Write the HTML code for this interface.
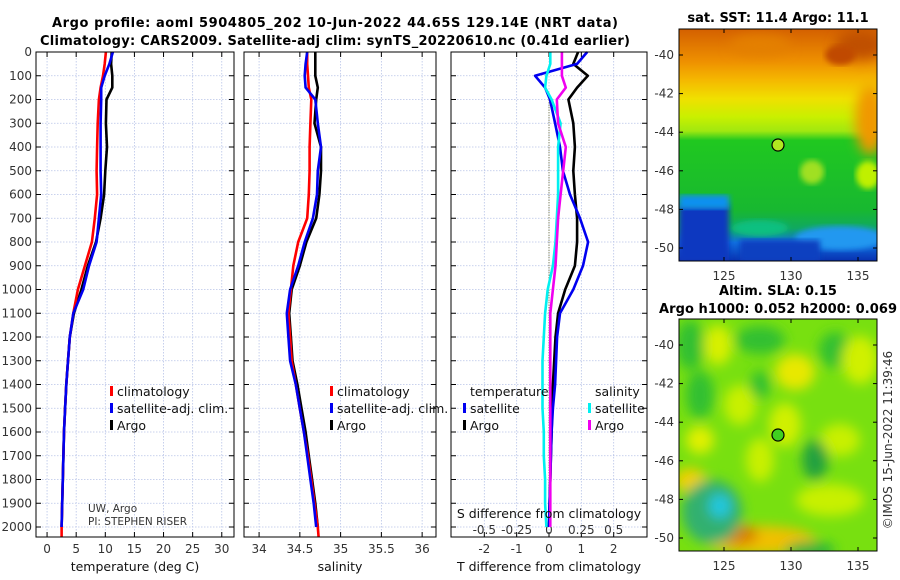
<!DOCTYPE html>
<html><head><meta charset="utf-8"><style>
html,body{margin:0;padding:0;background:#fff;}
svg{display:block;font-family:"DejaVu Sans","Liberation Sans",sans-serif;}
.tk{font-size:12px;fill:#333;}
.tt{font-size:13px;font-weight:bold;fill:#000;}
.lg{font-size:12.5px;fill:#111;}
</style></head><body>
<svg id="fig" width="900" height="580" viewBox="0 0 900 580" xmlns="http://www.w3.org/2000/svg">
<defs>
<filter id="blur6" x="-50%" y="-50%" width="200%" height="200%"><feGaussianBlur stdDeviation="6"/></filter>
<filter id="blur3"><feGaussianBlur stdDeviation="3"/></filter>
<clipPath id="cm1"><rect x="679" y="29" width="198" height="232"/></clipPath>
<clipPath id="cm2"><rect x="679" y="319" width="198" height="232"/></clipPath>
<linearGradient id="sstg" x1="0" y1="0" x2="0" y2="1">
<stop offset="0" stop-color="#d46000"/><stop offset="0.14" stop-color="#ee9000"/>
<stop offset="0.22" stop-color="#f5b800"/><stop offset="0.3" stop-color="#f0e000"/>
<stop offset="0.38" stop-color="#c8f000"/><stop offset="0.44" stop-color="#a0e810"/>
<stop offset="0.48" stop-color="#20c820"/><stop offset="0.78" stop-color="#18b830"/>
<stop offset="0.86" stop-color="#10a860"/><stop offset="0.92" stop-color="#1070e0"/>
<stop offset="1" stop-color="#0830b0"/></linearGradient>
</defs>
<g id="titles">
<text class="tt" x="335" y="27" text-anchor="middle" textLength="566">Argo profile: aoml 5904805_202 10-Jun-2022 44.65S 129.14E (NRT data)</text>
<text class="tt" x="335" y="45" text-anchor="middle" textLength="590">Climatology: CARS2009. Satellite-adj clim: synTS_20220610.nc (0.41d earlier)</text>
</g>
<g id="panels"></g>

<g>
<text class="tt" x="778" y="22" text-anchor="middle">sat. SST: 11.4 Argo: 11.1</text>
<g clip-path="url(#cm1)">
<rect x="679" y="29" width="198" height="232" fill="url(#sstg)"/>
<ellipse cx="860" cy="45" rx="25" ry="15" fill="#c05000" filter="url(#blur6)"/>
<ellipse cx="840" cy="55" rx="15" ry="10" fill="#c04800" filter="url(#blur3)"/>
<ellipse cx="760" cy="45" rx="30" ry="10" fill="#e48000" filter="url(#blur6)"/>
<ellipse cx="870" cy="120" rx="15" ry="35" fill="#f09800" filter="url(#blur6)"/>
<ellipse cx="812" cy="172" rx="12" ry="12" fill="#a0e020" filter="url(#blur3)"/>
<ellipse cx="868" cy="175" rx="12" ry="14" fill="#c0f000" filter="url(#blur3)"/>
<rect x="679" y="205" width="50" height="56" fill="#0838c0" filter="url(#blur3)"/>
<rect x="679" y="195" width="50" height="14" fill="#1090f0" filter="url(#blur3)"/>
<ellipse cx="840" cy="238" rx="45" ry="12" fill="#2098f0" filter="url(#blur3)"/>
<rect x="740" y="240" width="80" height="22" fill="#0840c0" filter="url(#blur3)"/>
<ellipse cx="760" cy="228" rx="28" ry="8" fill="#10c080" filter="url(#blur3)"/>
</g>
<rect x="679" y="29" width="198" height="232" fill="none" stroke="#000" stroke-width="1"/>
<circle cx="778" cy="145" r="6" fill="#b0e820" stroke="#000" stroke-width="1.2"/>
<g id="m1ticks"></g>
</g>

<g>
<text class="tt" x="778" y="295" text-anchor="middle">Altim. SLA: 0.15</text>
<text class="tt" x="778" y="313" text-anchor="middle" textLength="238">Argo h1000: 0.052 h2000: 0.069</text>
<g clip-path="url(#cm2)">
<rect x="679" y="319" width="198" height="232" fill="#78e010"/>
<g filter="url(#blur6)">
<ellipse cx="690" cy="345" rx="14" ry="25" fill="#30c030"/>
<ellipse cx="760" cy="340" rx="25" ry="14" fill="#30c030"/>
<ellipse cx="835" cy="350" rx="16" ry="18" fill="#30c030"/>
<ellipse cx="718" cy="345" rx="14" ry="20" fill="#d8f000"/>
<ellipse cx="795" cy="372" rx="20" ry="18" fill="#e8e800"/>
<ellipse cx="860" cy="360" rx="18" ry="24" fill="#d0f000"/>
<ellipse cx="740" cy="405" rx="16" ry="20" fill="#c8f000"/>
<ellipse cx="785" cy="425" rx="16" ry="22" fill="#d0f000"/>
<ellipse cx="840" cy="440" rx="20" ry="16" fill="#c8f000"/>
<ellipse cx="700" cy="440" rx="14" ry="14" fill="#e0f000"/>
<ellipse cx="690" cy="480" rx="16" ry="12" fill="#f0d000"/>
<ellipse cx="760" cy="460" rx="14" ry="22" fill="#c8f000"/>
<ellipse cx="830" cy="500" rx="34" ry="16" fill="#c8f000"/>
<ellipse cx="760" cy="540" rx="55" ry="14" fill="#f0c000"/>
<ellipse cx="738" cy="535" rx="20" ry="10" fill="#d88000"/>
<ellipse cx="712" cy="512" rx="30" ry="32" fill="#30b070"/>
<ellipse cx="720" cy="506" rx="11" ry="12" fill="#20c8e0"/>
<ellipse cx="815" cy="460" rx="13" ry="20" fill="#20a040"/>
<ellipse cx="810" cy="550" rx="25" ry="8" fill="#20b040"/>
<ellipse cx="700" cy="395" rx="14" ry="24" fill="#30c030"/>
<ellipse cx="760" cy="385" rx="10" ry="14" fill="#30c030"/>
</g>
</g>
<rect x="679" y="319" width="198" height="232" fill="none" stroke="#000" stroke-width="1"/>
<circle cx="778" cy="435" r="6" fill="#40d020" stroke="#000" stroke-width="1.2"/>
<g id="m2ticks"></g>
<text class="tk" transform="translate(892,440) rotate(-90)" text-anchor="middle">©IMOS 15-Jun-2022 11:39:46</text>
</g>
</svg>
<script>
const depths = [0,50,100,150,200,300,400,500,600,700,800,900,1000,1100,1200,1300,1400,1500,1600,1700,1800,1900,2000];
const tempClim = [10.1,9.9,9.6,9.2,8.9,8.7,8.6,8.5,8.6,8.2,7.7,6.5,5.3,4.5,3.9,3.6,3.3,3.1,2.9,2.8,2.7,2.6,2.5];
const tempSat  = [11.3,10.7,9.9,9.3,9.3,9.2,9.2,9.2,9.3,8.9,8.5,7.2,6.2,4.5,3.9,3.6,3.3,3.1,2.9,2.8,2.7,2.6,2.5];
const tempArgo = [11.1,11.0,11.2,11.2,10.2,10.1,10.3,10.0,9.8,9.2,8.4,7.0,5.9,4.6,3.9,3.6,3.3,3.1,2.9,2.8,2.7,2.6,2.5];
const salClim  = [34.59,34.59,34.6,34.61,34.64,34.63,34.62,34.62,34.61,34.59,34.48,34.42,34.39,34.36,34.38,34.40,34.45,34.50,34.55,34.60,34.64,34.68,34.72];
const salSat   = [34.59,34.57,34.56,34.57,34.69,34.72,34.76,34.72,34.71,34.66,34.56,34.48,34.38,34.34,34.36,34.38,34.45,34.50,34.55,34.59,34.63,34.67,34.70];
const salArgo  = [34.69,34.69,34.69,34.72,34.70,34.68,34.76,34.76,34.74,34.70,34.58,34.50,34.40,34.37,34.39,34.41,34.47,34.52,34.57,34.61,34.65,34.69,34.72];
const dTsat  = [1.18,0.87,-0.43,-0.12,0.03,0.19,0.34,0.43,0.65,0.96,1.21,1.05,0.75,0.34,0.25,0.22,0.19,0.12,0.08,0.06,0.04,0.02,0.0];
const dTargo = [0.9,0.75,1.2,0.87,0.6,0.75,0.8,0.75,0.8,0.87,0.87,0.8,0.5,0.28,0.2,0.16,0.12,0.1,0.08,0.06,0.04,0.02,0.0];
const dSsat  = [0.01,0.01,-0.02,-0.03,0.02,0.09,0.07,0.07,0.07,0.06,0.05,0.03,-0.01,-0.03,-0.04,-0.05,-0.05,-0.05,-0.04,-0.04,-0.03,-0.03,-0.02];
const dSargo = [0.1,0.1,0.1,0.13,0.06,0.07,0.13,0.11,0.09,0.07,0.06,0.05,0.03,0.01,0.01,0.01,0.01,0.01,0.01,0.01,0.01,0.01,0.01];
const depthTicks = [0,100,200,300,400,500,600,700,800,900,1000,1100,1200,1300,1400,1500,1600,1700,1800,1900,2000];
const tempTicks = [0,5,10,15,20,25,30];
const salTicks = [34,34.5,35,35.5,36];
const salTickLabels = ["34","34.5","35","35.5","36"];
const dTTicks = [-2,-1,0,1,2];
const dSTicks = [-0.5,-0.25,0,0.25,0.5];
const dSTickLabels = ["-0.5","-0.25","0","0.25","0.5"];
const latTicks = [-40,-42,-44,-46,-48,-50];
const lonTicks = [125,130,135];

const TOP=52, BOT=537;
const yD = d => TOP + d*0.2375;
const panels = [
 {x0:36,x1:234,lo:-1.9,hi:32.1},
 {x0:244,x1:436,lo:33.815,hi:36.17},
 {x0:451,x1:647,lo:-3.03,hi:3.03}
];
const xS = (p,v) => p.x0 + (v-p.lo)/(p.hi-p.lo)*(p.x1-p.x0);
const xDS = v => xS(panels[2], v*4);
const NS="http://www.w3.org/2000/svg";
const root=document.getElementById('panels');
function mk(tag,attrs,parent){const e=document.createElementNS(NS,tag);for(const k in attrs)e.setAttribute(k,attrs[k]);(parent||root).appendChild(e);return e;}
function txt(x,y,s,cls,anchor,parent){const t=mk('text',{x:x,y:y,class:cls,'text-anchor':anchor||'middle'},parent);t.textContent=s;return t;}

const pNames=['temperature-panel','salinity-panel','difference-panel'];
panels.forEach((p,i)=>{
  const g=mk('g',{});
  
  
  p.g=g;
  depthTicks.forEach(d=>{
    const y=yD(d);
    mk('line',{x1:p.x0,x2:p.x1,y1:y,y2:y,stroke:'#b8c4e8','stroke-width':0.8,'stroke-dasharray':'1.5,1.5'},g);
    mk('line',{x1:p.x0,x2:p.x0+5,y1:y,y2:y,stroke:'#000','stroke-width':1},g);
    mk('line',{x1:p.x1-5,x2:p.x1,y1:y,y2:y,stroke:'#000','stroke-width':1},g);
  });
});
depthTicks.forEach(d=>{
  const t=txt(32,yD(d)+4,String(d),'tk','end');
  
  
});
function vgrid(p,vals,labels,yl){
  vals.forEach((v,k)=>{
    const x=(p===panels[2] && labels===dSTickLabels)?xDS(v):xS(p,v);
    if(labels!==dSTickLabels){
      mk('line',{x1:x,x2:x,y1:TOP,y2:BOT,stroke:'#b8c4e8','stroke-width':0.8,'stroke-dasharray':'1.5,1.5'},p.g);
      mk('line',{x1:x,x2:x,y1:BOT-5,y2:BOT,stroke:'#000'},p.g);
      mk('line',{x1:x,x2:x,y1:TOP,y2:TOP+5,stroke:'#000'},p.g);
    }
    const t=txt(x,yl,labels?labels[k]:String(v),'tk','middle',p.g);
    
    
  });
}
vgrid(panels[0],tempTicks,null,553);
vgrid(panels[1],salTicks,salTickLabels,553);
vgrid(panels[2],dTTicks,null,553);
vgrid(panels[2],dSTicks,dSTickLabels,534);
mk('line',{x1:xS(panels[2],0),x2:xS(panels[2],0),y1:yD(180),y2:yD(1980),stroke:'#666633','stroke-width':1,'stroke-dasharray':'1,1.5'},panels[2].g);

function series(p,vals,fx,color,name,w){
  const pts=vals.map((v,k)=>fx(v).toFixed(1)+','+yD(depths[k]).toFixed(1)).join(' ');
  const l=mk('polyline',{points:pts,fill:'none',stroke:color,'stroke-width':w||2.6,'stroke-linejoin':'round'},p.g);
  
  
}
const p0=panels[0],p1=panels[1],p2=panels[2];
series(p0,tempArgo,v=>xS(p0,v),'#000','temp-argo-line');
series(p0,tempClim,v=>xS(p0,v),'#f00','temp-climatology-line');
series(p0,tempSat,v=>xS(p0,v),'#0000f0','temp-satellite-line');
mk('line',{x1:xS(p0,2.5),x2:xS(p0,2.5),y1:yD(2000),y2:BOT,stroke:'#f00','stroke-width':2.6},p0.g);
series(p1,salArgo,v=>xS(p1,v),'#000','sal-argo-line');
series(p1,salClim,v=>xS(p1,v),'#f00','sal-climatology-line');
series(p1,salSat,v=>xS(p1,v),'#0000f0','sal-satellite-line');
mk('line',{x1:xS(p1,34.72),x2:xS(p1,34.73),y1:yD(2000),y2:BOT,stroke:'#f00','stroke-width':2.6},p1.g);
series(p2,dTargo,v=>xS(p2,v),'#000','tdiff-argo-line');
series(p2,dTsat,v=>xS(p2,v),'#0000f0','tdiff-satellite-line');
series(p2,dSsat,v=>xDS(v),'#00f0f0','sdiff-satellite-line');
series(p2,dSargo,v=>xDS(v),'#f000f0','sdiff-argo-line');

panels.forEach(p=>mk('rect',{x:p.x0,y:TOP,width:p.x1-p.x0,height:BOT-TOP,fill:'none',stroke:'#000','stroke-width':1},p.g));

txt(135,571,'temperature (deg C)','lg','middle',p0.g);
txt(340,571,'salinity','lg','middle',p1.g);
txt(549,571,'T difference from climatology','lg','middle',p2.g);
txt(549,518,'S difference from climatology','lg','middle',p2.g);
txt(88,512,'UW, Argo','tk','start',p0.g).setAttribute('style','font-size:10.5px');
txt(88,525,'PI: STEPHEN RISER','tk','start',p0.g).setAttribute('style','font-size:10.5px');

function legend(g,x,y,color,label){
  mk('rect',{x:x,y:y-10,width:3,height:10,fill:color},g);
  const t=txt(x+7,y,label,'lg','start',g);
  
  
}
legend(p0.g,110,396,'#f00','climatology');
legend(p0.g,110,413,'#0000f0','satellite-adj. clim.');
legend(p0.g,110,430,'#000','Argo');
legend(p1.g,330,396,'#f00','climatology');
legend(p1.g,330,413,'#0000f0','satellite-adj. clim.');
legend(p1.g,330,430,'#000','Argo');
txt(470,396,'temperature','lg','start',p2.g);
txt(595,396,'salinity','lg','start',p2.g);
legend(p2.g,463,413,'#0000f0','satellite');
legend(p2.g,463,430,'#000','Argo');
legend(p2.g,588,413,'#00f0f0','satellite');
legend(p2.g,588,430,'#f000f0','Argo');

function mapTicks(id,top,lat40y){
  const g=document.getElementById(id);
  latTicks.forEach(l=>{
    const y=lat40y+(-40-l)*19.3;
    mk('line',{x1:679,x2:683,y1:y,y2:y,stroke:'#000'},g);
    mk('line',{x1:873,x2:877,y1:y,y2:y,stroke:'#000'},g);
    const t=txt(674,y+4,String(l),'tk','end',g);
    
    
  });
  lonTicks.forEach(l=>{
    const x=724+(l-125)*13.4;
    mk('line',{x1:x,x2:x,y1:top+228,y2:top+232,stroke:'#000'},g);
    mk('line',{x1:x,x2:x,y1:top,y2:top+4,stroke:'#000'},g);
    const t=txt(x,top+251,String(l),'tk','middle',g);
    
    
  });
}
mapTicks('m1ticks',29,55);
mapTicks('m2ticks',319,345);
</script>
</body></html>
